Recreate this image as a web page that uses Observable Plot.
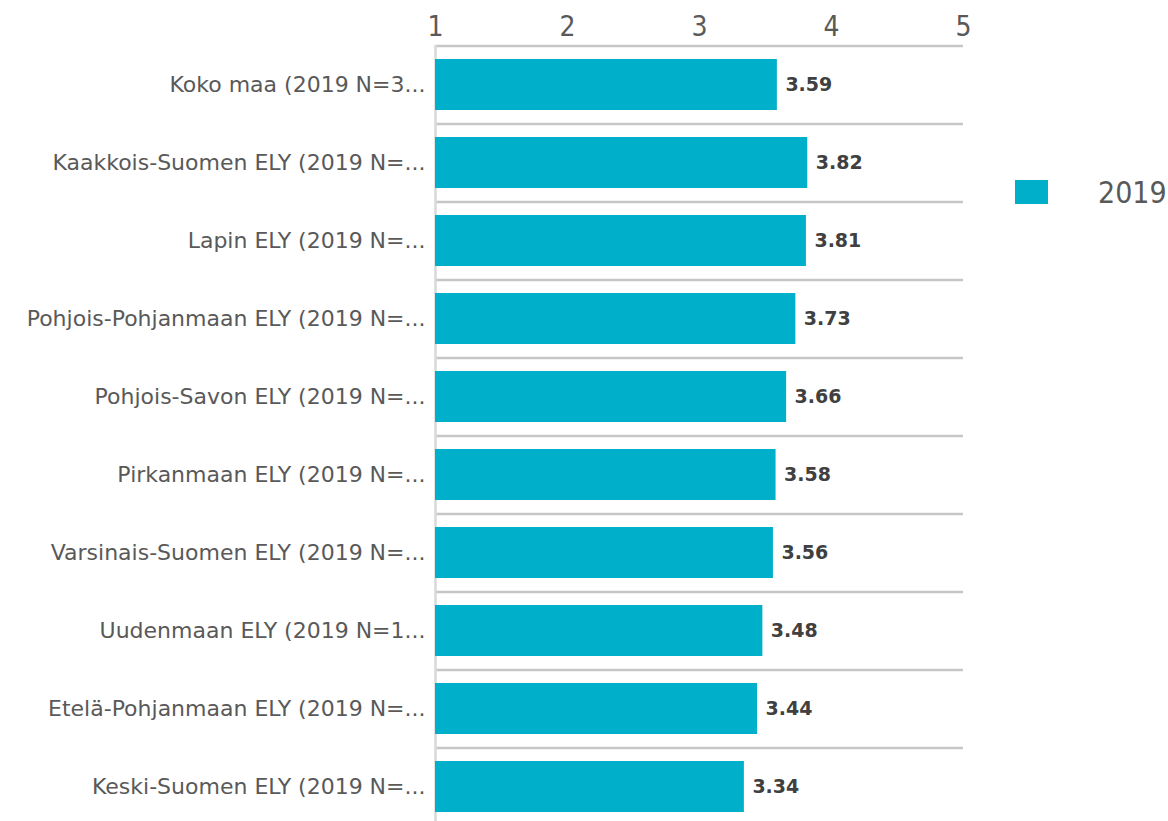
<!DOCTYPE html>
<html>
<head>
<meta charset="utf-8">
<script src="https://cdn.jsdelivr.net/npm/d3@7"></script>
<script src="https://cdn.jsdelivr.net/npm/@observablehq/plot@0.6"></script>
<style>
  html, body { margin: 0; padding: 0; background: #fff; overflow: hidden; }
  #wrap { position: relative; width: 1168px; height: 821px; }
  #legend { position: absolute; left: 1015px; top: 170px; height: 44px; display: flex; align-items: center;
            font-family: "DejaVu Sans Condensed", "DejaVu Sans", sans-serif; font-size: 30px; color: #595959; }
  #legend .sw { width: 33px; height: 24px; background: #00AFC9; margin-right: 50px; }
</style>
</head>
<body>
<div id="wrap">
  <div id="chart"></div>
  <div id="legend"><div class="sw"></div><span id="legendLabel"></span></div>
</div>
<script>
const categories = [
  "Koko maa (2019 N=3...",
  "Kaakkois-Suomen ELY (2019 N=...",
  "Lapin ELY (2019 N=...",
  "Pohjois-Pohjanmaan ELY (2019 N=...",
  "Pohjois-Savon ELY (2019 N=...",
  "Pirkanmaan ELY (2019 N=...",
  "Varsinais-Suomen ELY (2019 N=...",
  "Uudenmaan ELY (2019 N=1...",
  "Etelä-Pohjanmaan ELY (2019 N=...",
  "Keski-Suomen ELY (2019 N=..."
];
const values2019 = [3.59, 3.82, 3.81, 3.73, 3.66, 3.58, 3.56, 3.48, 3.44, 3.34];
const seriesName = "2019";
const xTicks = [1, 2, 3, 4, 5];

const data = categories.map((c, i) => ({category: c, value: values2019[i]}));
document.getElementById("legendLabel").textContent = seriesName;

const font = "'DejaVu Sans', sans-serif";
const step = 78;

const chart = Plot.plot({
  width: 1168,
  height: 830,
  marginTop: 45,
  marginLeft: 435,
  marginRight: 205,
  marginBottom: 5,
  style: {fontFamily: font, background: "#fff", overflow: "visible"},
  x: {domain: [1, 5], axis: null},
  y: {domain: categories, paddingInner: 0.35, paddingOuter: 0.175, axis: null},
  marks: [
    Plot.ruleY(categories, {y: d => d, dy: -step / 2, x1: 1, x2: 5, stroke: "#c6c6c6", strokeWidth: 2.5}),
    Plot.ruleX([1], {stroke: "#d9d9d9", strokeWidth: 2.5}),
    Plot.barX(data, {y: "category", x1: 1, x2: "value", fill: "#00AFC9"}),
    Plot.text(data, {y: "category", x: "value", text: d => d.value.toFixed(2), dx: 8, textAnchor: "start",
      fontWeight: "bold", fill: "#404040", fontSize: 19}),
    Plot.axisX(xTicks, {anchor: "top", tickSize: 0, tickPadding: 10, fontSize: 28, color: "#595959",
      tickFormat: d => String(d), label: null, fontFamily: "'DejaVu Sans Condensed', sans-serif"}),
    Plot.axisY({anchor: "left", tickSize: 0, tickPadding: 10, fontSize: 22, color: "#595959", label: null})
  ]
});
document.getElementById("chart").appendChild(chart);
</script>
</body>
</html>
